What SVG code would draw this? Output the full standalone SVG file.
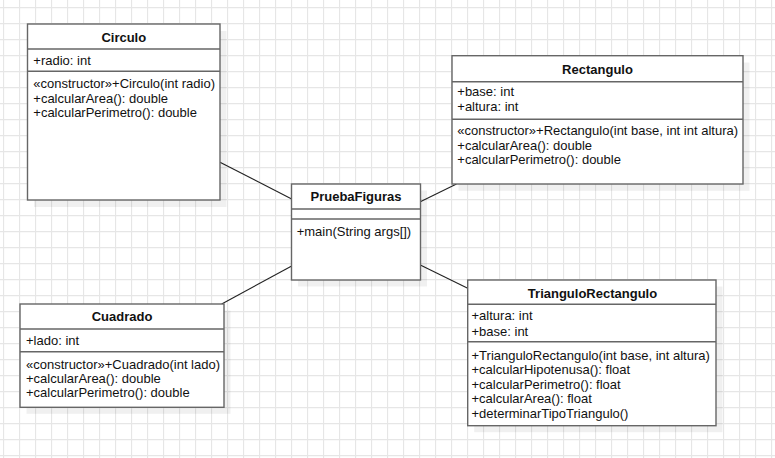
<svg xmlns="http://www.w3.org/2000/svg" width="775" height="458" viewBox="0 0 775 458">
<style>
.box{fill:#ffffff;stroke:#666666;stroke-width:1.4}
.shadow{fill:#000000;fill-opacity:0.06;stroke:none}
.div{stroke:#666666;stroke-width:1.4;fill:none}
.t{font-family:"Liberation Sans",Arial,Helvetica,sans-serif;font-size:13px;fill:#111111}
.title{font-family:"Liberation Sans",Arial,Helvetica,sans-serif;font-size:13px;font-weight:bold;fill:#111111;text-anchor:middle}
.conn{stroke:#222222;stroke-width:1.1;fill:none}
</style>
<defs>
<pattern id="grid" x="3" y="7" width="16" height="16" patternUnits="userSpaceOnUse">
<path d="M0.5 0 V16 M0 0.5 H16" stroke="#e6e6e6" stroke-width="1.3" fill="none"/>
</pattern>
</defs>
<rect x="0" y="0" width="775" height="458" fill="#ffffff"/>
<rect x="0" y="0" width="775" height="458" fill="url(#grid)"/>

<g id="connectors">
<line class="conn" x1="220" y1="162.3" x2="291.7" y2="199"/>
<line class="conn" x1="420.3" y1="201.7" x2="456.5" y2="184"/>
<line class="conn" x1="291.7" y1="266" x2="221.7" y2="304"/>
<line class="conn" x1="420.3" y1="265" x2="467.7" y2="288.3"/>
</g>

<g id="Circulo">
<rect class="shadow" x="34" y="31" width="192.5" height="176"/>
<rect class="box" x="27.5" y="24" width="192.5" height="176"/>
<line class="div" x1="27.5" y1="49" x2="220" y2="49"/>
<line class="div" x1="27.5" y1="71.3" x2="220" y2="71.3"/>
<text class="title" x="123.8" y="41.5">Circulo</text>
<text class="t" x="33.3" y="64.5">+radio: int</text>
<text class="t" x="33.3" y="88">«constructor»+Circulo(int radio)</text>
<text class="t" x="33.3" y="102.5">+calcularArea(): double</text>
<text class="t" x="33.3" y="117">+calcularPerimetro(): double</text>
</g>

<g id="Rectangulo">
<rect class="shadow" x="458.5" y="62.5" width="291" height="128.3"/>
<rect class="box" x="452" y="55.7" width="291" height="128.3"/>
<line class="div" x1="452" y1="81.7" x2="743" y2="81.7"/>
<line class="div" x1="452" y1="119.3" x2="743" y2="119.3"/>
<text class="title" x="597.5" y="73.5">Rectangulo</text>
<text class="t" x="457.3" y="96.2">+base: int</text>
<text class="t" x="457.3" y="111.2">+altura: int</text>
<text class="t" x="457.3" y="135.2">«constructor»+Rectangulo(int base, int int altura)</text>
<text class="t" x="457.3" y="149.5">+calcularArea(): double</text>
<text class="t" x="457.3" y="163.8">+calcularPerimetro(): double</text>
</g>

<g id="PruebaFiguras">
<rect class="shadow" x="298" y="190.5" width="129" height="96"/>
<rect class="box" x="291.5" y="184" width="129" height="96"/>
<line class="div" x1="291.5" y1="209" x2="420.5" y2="209"/>
<line class="div" x1="291.5" y1="219" x2="420.5" y2="219"/>
<text class="title" x="356" y="201.2">PruebaFiguras</text>
<text class="t" x="296.7" y="235.5">+main(String args[])</text>
</g>

<g id="Cuadrado">
<rect class="shadow" x="26.5" y="310.5" width="204" height="103.3"/>
<rect class="box" x="20" y="304" width="204" height="103.3"/>
<line class="div" x1="20" y1="329" x2="224" y2="329"/>
<line class="div" x1="20" y1="351.7" x2="224" y2="351.7"/>
<text class="title" x="122" y="321.2">Cuadrado</text>
<text class="t" x="26" y="344.5">+lado: int</text>
<text class="t" x="26" y="368.5">«constructor»+Cuadrado(int lado)</text>
<text class="t" x="26" y="382.8">+calcularArea(): double</text>
<text class="t" x="26" y="397">+calcularPerimetro(): double</text>
</g>

<g id="TrianguloRectangulo">
<rect class="shadow" x="474.2" y="286.5" width="248.3" height="145.7"/>
<rect class="box" x="467.7" y="280" width="248.3" height="145.7"/>
<line class="div" x1="467.7" y1="304.3" x2="716" y2="304.3"/>
<line class="div" x1="467.7" y1="341.7" x2="716" y2="341.7"/>
<text class="title" x="592.5" y="297.8">TrianguloRectangulo</text>
<text class="t" x="471.5" y="320.2">+altura: int</text>
<text class="t" x="471.5" y="335.5">+base: int</text>
<text class="t" x="471.5" y="359.5">+TrianguloRectangulo(int base, int altura)</text>
<text class="t" x="471.5" y="374">+calcularHipotenusa(): float</text>
<text class="t" x="471.5" y="388.5">+calcularPerimetro(): float</text>
<text class="t" x="471.5" y="403">+calcularArea(): float</text>
<text class="t" x="471.5" y="417.8">+determinarTipoTriangulo()</text>
</g>
</svg>
